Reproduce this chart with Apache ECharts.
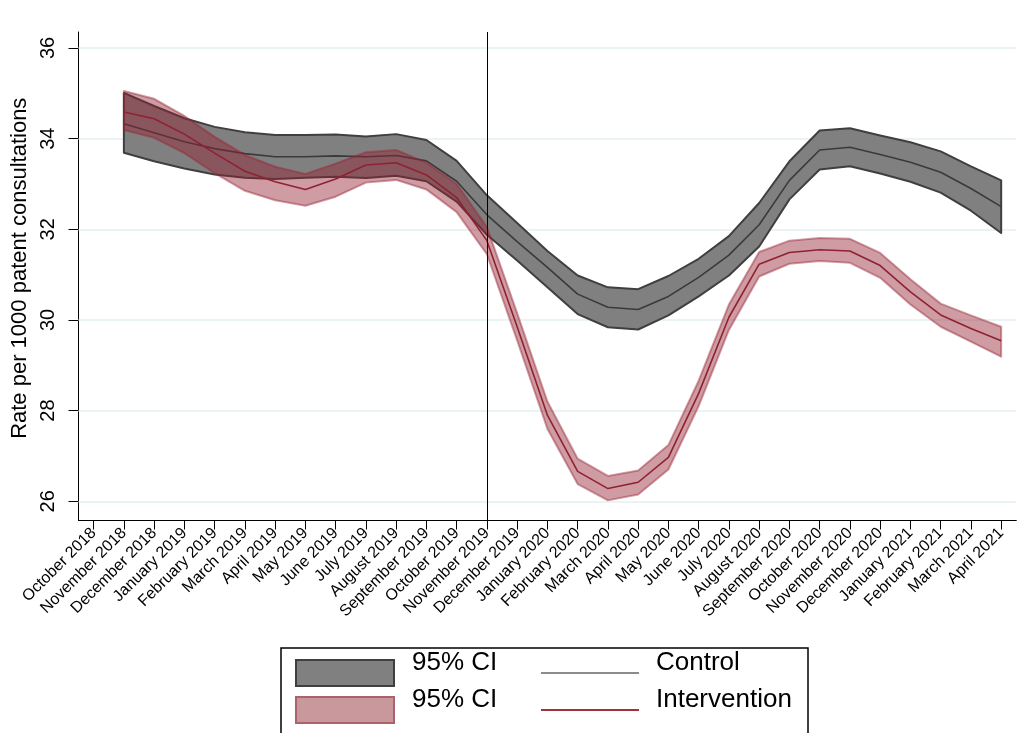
<!DOCTYPE html>
<html>
<head>
<meta charset="utf-8">
<script src="https://cdn.jsdelivr.net/npm/echarts@6/dist/echarts.min.js"></script>
<style>
html,body{margin:0;padding:0;background:#fff;}
#chart{width:1022px;height:733px;}
</style>
</head>
<body>
<div id="chart"></div>
<script>
const months = ['October 2018','November 2018','December 2018','January 2019','February 2019','March 2019','April 2019','May 2019','June 2019','July 2019','August 2019','September 2019','October 2019','November 2019','December 2019','January 2020','February 2020','March 2020','April 2020','May 2020','June 2020','July 2020','August 2020','September 2020','October 2020','November 2020','December 2020','January 2021','February 2021','March 2021','April 2021'];
// series start at November 2018
const controlUpper = [35.01,34.72,34.45,34.26,34.14,34.08,34.08,34.09,34.05,34.10,33.97,33.51,32.75,32.14,31.52,30.98,30.72,30.68,30.97,31.35,31.85,32.58,33.50,34.18,34.23,34.07,33.92,33.72,33.39,33.08];
const controlMid   = [34.33,34.13,33.93,33.78,33.67,33.60,33.60,33.62,33.60,33.63,33.51,33.06,32.32,31.73,31.16,30.57,30.28,30.23,30.52,30.94,31.43,32.10,33.08,33.75,33.81,33.65,33.48,33.26,32.90,32.50];
const controlLower = [33.69,33.50,33.34,33.21,33.14,33.11,33.14,33.16,33.13,33.18,33.06,32.61,31.88,31.31,30.72,30.13,29.84,29.79,30.10,30.52,30.98,31.62,32.66,33.32,33.39,33.23,33.05,32.81,32.41,31.92];
const interUpper   = [35.05,34.88,34.50,34.04,33.64,33.38,33.22,33.45,33.70,33.75,33.47,33.00,32.05,30.15,28.20,26.94,26.56,26.68,27.24,28.66,30.34,31.50,31.75,31.81,31.79,31.48,30.90,30.36,30.10,29.85];
const interMid     = [34.59,34.44,34.10,33.68,33.28,33.05,32.88,33.11,33.42,33.47,33.20,32.70,31.75,29.85,27.90,26.66,26.28,26.42,26.97,28.38,30.06,31.23,31.49,31.55,31.52,31.20,30.62,30.11,29.81,29.54];
const interLower   = [34.19,34.02,33.68,33.24,32.85,32.64,32.52,32.72,33.03,33.09,32.88,32.38,31.45,29.55,27.60,26.38,26.02,26.15,26.70,28.10,29.78,30.96,31.24,31.30,31.26,30.93,30.34,29.85,29.52,29.19];
const yTicks = [26,28,30,32,34,36];
const interventionMonth = 'November 2019';
const firstIndex = 1;

const FONT = "'Liberation Sans', Arial, sans-serif";

function bandRenderer(upper, lower, style) {
  return function (params, api) {
    if (params.dataIndex !== 0) return null;
    const pts = [];
    for (let k = 0; k < upper.length; k++) pts.push(api.coord([k + firstIndex, upper[k]]));
    for (let k = lower.length - 1; k >= 0; k--) pts.push(api.coord([k + firstIndex, lower[k]]));
    return { type: 'polygon', shape: { points: pts }, style: style };
  };
}
function pairs(arr) { return arr.map((v, k) => [k + firstIndex, v]); }

const chart = echarts.init(document.getElementById('chart'), null, { renderer: 'canvas' });
const option = {
  animation: false,
  backgroundColor: '#fff',
  textStyle: { fontFamily: FONT },
  grid: { left: 78.5, right: 5.7, top: 32, bottom: 212.5, containLabel: false },
  xAxis: {
    type: 'category',
    data: months,
    boundaryGap: true,
    axisLine: { show: true, onZero: false, lineStyle: { color: '#000', width: 1 } },
    axisTick: { show: true, alignWithLabel: true, interval: 0, length: 9, lineStyle: { color: '#000', width: 1 } },
    axisLabel: { interval: 0, rotate: 45, fontSize: 16, color: '#000', fontFamily: FONT, margin: 10 },
    splitLine: { show: false }
  },
  yAxis: {
    type: 'value',
    min: 25.576, max: 36.353,
    name: 'Rate per 1000 patent consultations',
    nameLocation: 'middle',
    nameRotate: 90,
    nameGap: 46,
    nameTextStyle: { fontSize: 22, color: '#000', fontFamily: FONT, padding: [0, 0, 0, 16] },
    axisLine: { show: true, lineStyle: { color: '#000', width: 1 } },
    axisTick: { show: true, length: 10, customValues: yTicks, lineStyle: { color: '#000', width: 1 } },
    axisLabel: { rotate: 90, fontSize: 20, color: '#000', fontFamily: FONT, margin: 20, customValues: yTicks },
    splitLine: { show: false }
  },
  series: [
    {
      type: 'line', data: [], z: 1, silent: true,
      markLine: {
        z: 1,
        silent: true, symbol: 'none', animation: false,
        label: { show: false },
        data: yTicks.map(v => ({ yAxis: v, lineStyle: { color: '#e6eff1', width: 1.5, type: 'solid' } }))
      }
    },
    {
      type: 'custom', z: 2, silent: true,
      data: [[firstIndex, controlLower[0], controlUpper[0]]],
      renderItem: bandRenderer(controlUpper, controlLower, { fill: 'rgb(128,128,128)', stroke: '#3f3f3f', lineWidth: 2, lineJoin: 'round' })
    },
    {
      type: 'line', z: 3, silent: true, data: pairs(controlMid), symbol: 'none',
      lineStyle: { color: '#3a3a3a', width: 1.6 }
    },
    {
      type: 'custom', z: 4, silent: true,
      data: [[firstIndex, interLower[0], interUpper[0]]],
      renderItem: bandRenderer(interUpper, interLower, { fill: 'rgba(150,35,50,0.45)', stroke: 'rgba(150,35,50,0.45)', lineWidth: 2, lineJoin: 'round' })
    },
    {
      type: 'line', z: 5, silent: true, data: pairs(interMid), symbol: 'none',
      lineStyle: { color: '#8e2232', width: 1.6 }
    },
    {
      type: 'line', data: [], z: 6, silent: true,
      markLine: {
        z: 6,
        silent: true, symbol: 'none', animation: false,
        label: { show: false },
        data: [{ xAxis: interventionMonth, lineStyle: { color: '#000', width: 1, type: 'solid' } }]
      }
    }
  ],
  graphic: [
    { type: 'rect', shape: { x: 281, y: 648, width: 527, height: 120 }, style: { fill: '#fff', stroke: '#000', lineWidth: 1.5 }, z: 10 },
    { type: 'rect', shape: { x: 296, y: 660, width: 98, height: 26 }, style: { fill: 'rgb(128,128,128)', stroke: '#3f3f3f', lineWidth: 2 }, z: 11 },
    { type: 'rect', shape: { x: 296, y: 697, width: 98, height: 26 }, style: { fill: 'rgb(201,152,157)', stroke: 'rgb(172,98,106)', lineWidth: 2 }, z: 11 },
    { type: 'text', x: 412, y: 663, style: { text: '95% CI', font: "26px " + FONT, fill: '#000', verticalAlign: 'middle' }, z: 11 },
    { type: 'text', x: 412, y: 700, style: { text: '95% CI', font: "26px " + FONT, fill: '#000', verticalAlign: 'middle' }, z: 11 },
    { type: 'line', shape: { x1: 541, y1: 673, x2: 639, y2: 673 }, style: { stroke: 'rgb(140,140,140)', lineWidth: 2 }, z: 11 },
    { type: 'line', shape: { x1: 541, y1: 710, x2: 639, y2: 710 }, style: { stroke: 'rgb(160,50,62)', lineWidth: 2 }, z: 11 },
    { type: 'text', x: 656, y: 663, style: { text: 'Control', font: "26px " + FONT, fill: '#000', verticalAlign: 'middle' }, z: 11 },
    { type: 'text', x: 656, y: 700, style: { text: 'Intervention', font: "26px " + FONT, fill: '#000', verticalAlign: 'middle' }, z: 11 }
  ]
};
chart.setOption(option);
</script>
</body>
</html>
